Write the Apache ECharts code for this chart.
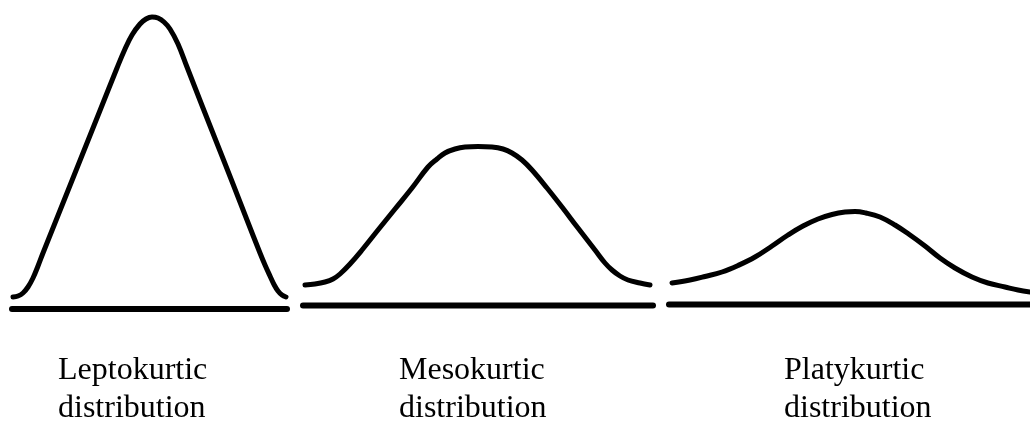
<!DOCTYPE html>
<html>
<head>
<meta charset="utf-8">
<style>
  html, body { margin: 0; padding: 0; background: #ffffff; }
  #chart { width: 1030px; height: 423px; }
</style>
<script src="https://cdn.jsdelivr.net/npm/echarts@6/dist/echarts.min.js"></script>
</head>
<body>
<div id="chart"></div>
<script>
// Three sketched density curves on a shared horizontal scale; y is height above the bottom edge.
const leptoX = [13, 18, 23, 28, 33, 38, 43, 55, 80, 100, 117, 125, 132, 140, 146, 152, 158, 164, 170, 178, 187, 203, 220, 233, 247, 260, 265, 270, 274, 278, 282, 286];
const leptoY = [126, 127, 130, 136, 145, 157, 170, 200, 262.5, 312.5, 355, 374, 388, 399, 404, 406, 405, 401, 394, 379, 356, 315, 272, 239, 203, 170, 158, 147, 138.5, 132, 128, 126];

const mesoX = [305, 315, 325, 333, 340, 350, 362, 378, 395, 412, 428, 437, 445, 455, 465, 478, 492, 503, 512, 522, 532, 547, 562, 578, 595, 605, 612, 620, 628, 640, 650];
const mesoY = [138, 139, 141, 144, 149, 159, 173, 193, 214, 235, 256, 264, 270, 274, 276, 276.5, 276, 274, 270, 263, 253, 235, 216, 195, 173, 160, 153, 147, 143, 140, 138];

const platyX = [672, 690, 705, 722, 738, 755, 772, 788, 803, 818, 832, 845, 855, 866, 880, 895, 910, 925, 940, 955, 972, 988, 1005, 1018, 1030];
const platyY = [140, 143, 146.5, 151, 157.5, 166, 177, 188, 197, 204, 208.5, 211, 211.5, 210, 206, 198, 188, 177, 165, 155, 146, 140, 136, 133, 131];

// Horizontal base lines under each curve: [xStart, xEnd, height]
const leptoBase = [12, 287, 114];
const mesoBase = [303, 653, 117.5];
const platyBase = [669, 1030, 118.5];

const labels = ['Leptokurtic\ndistribution', 'Mesokurtic\ndistribution', 'Platykurtic\ndistribution'];
const labelLeft = [58, 399, 784];

function zip(xs, ys) { return xs.map((x, i) => [x, ys[i]]); }
function baseLine(b) { return [[b[0], b[2]], [b[1], b[2]]]; }

const curveStyle = { color: '#000', width: 5, cap: 'round', join: 'round' };
const baseStyle = { color: '#000', width: 6, cap: 'round' };

function curve(name, data) {
  return {
    name, type: 'line', data, smooth: 0.4,
    showSymbol: false, symbol: 'none', lineStyle: curveStyle, silent: true
  };
}
function base(name, data) {
  return { name, type: 'line', data, showSymbol: false, symbol: 'none', lineStyle: baseStyle, silent: true };
}

const chart = echarts.init(document.getElementById('chart'), null, { renderer: 'canvas' });
chart.setOption({
  animation: false,
  backgroundColor: '#ffffff',
  grid: { left: 0, right: 0, top: 0, bottom: 0 },
  xAxis: { type: 'value', min: 0, max: 1030, show: false },
  yAxis: { type: 'value', min: 0, max: 423, show: false },
  series: [
    curve('Leptokurtic', zip(leptoX, leptoY)),
    curve('Mesokurtic', zip(mesoX, mesoY)),
    curve('Platykurtic', zip(platyX, platyY)),
    base('Leptokurtic base', baseLine(leptoBase)),
    base('Mesokurtic base', baseLine(mesoBase)),
    base('Platykurtic base', baseLine(platyBase))
  ],
  graphic: labels.map((t, i) => ({
    type: 'text',
    left: labelLeft[i],
    top: 352,
    style: {
      text: t,
      fill: '#000',
      font: '32px "Liberation Serif", "Times New Roman", serif',
      lineHeight: 38
    }
  }))
});
</script>
</body>
</html>
